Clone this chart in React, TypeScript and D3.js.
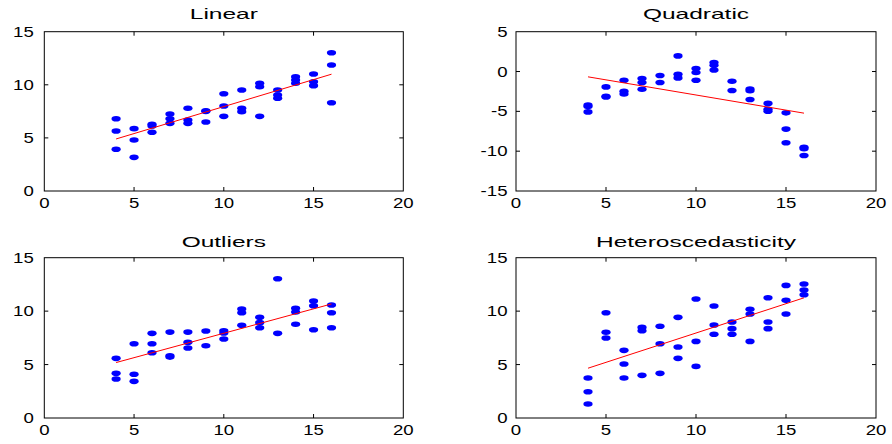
import { useEffect } from "react";
import * as d3 from "d3";

// ---- data ----
const xTicks = [0, 5, 10, 15, 20];
const titles = ["Linear", "Quadratic", "Outliers", "Heteroscedasticity"];
const yTicksA = [0, 5, 10, 15];
const yTicksB = [-15, -10, -5, 0, 5];

const linearX = [4, 4, 4, 5, 5, 5, 6, 6, 6, 7, 7, 7, 8, 8, 8, 9, 9, 9, 10, 10, 10, 11, 11, 11, 12, 12, 12, 13, 13, 13, 14, 14, 14, 15, 15, 15, 16, 16, 16];
const linearY = [6.81, 5.65, 3.93, 5.87, 4.8, 3.17, 6.28, 6.12, 5.53, 7.25, 6.81, 6.37, 7.79, 6.69, 6.37, 7.56, 7.5, 6.5, 9.16, 8.0, 7.03, 9.51, 7.79, 7.47, 10.14, 9.82, 7.03, 9.51, 9.04, 8.73, 10.76, 10.45, 10.14, 11.02, 10.29, 9.92, 13.02, 11.86, 8.31];

const quadX = [4, 4, 4, 5, 5, 5, 6, 6, 6, 7, 7, 7, 8, 8, 9, 9, 9, 10, 10, 10, 11, 11, 11, 12, 12, 13, 13, 13, 14, 14, 14, 15, 15, 15, 16, 16, 16];
const quadY = [-4.2, -4.4, -5.07, -1.93, -3.1, -3.2, -1.09, -2.47, -2.81, -0.88, -1.38, -2.22, -0.5, -1.38, 1.96, -0.34, -0.8, 0.38, -0.12, -1.09, 1.13, 0.79, 0.2, -1.22, -2.38, -2.2, -2.4, -3.51, -4.0, -4.73, -4.98, -5.19, -7.23, -8.94, -9.5, -9.7, -10.54];

const outX = [4, 4, 4, 5, 5, 5, 6, 6, 6, 7, 7, 7, 8, 8, 8, 9, 9, 10, 10, 10, 11, 11, 11, 12, 12, 12, 13, 13, 14, 14, 14, 15, 15, 15, 16, 16, 16];
const outY = [5.58, 4.18, 3.65, 6.95, 4.09, 3.43, 7.92, 6.95, 6.11, 8.04, 5.83, 5.7, 8.04, 7.08, 6.55, 8.14, 6.76, 8.17, 7.95, 7.39, 10.2, 9.85, 8.67, 9.42, 8.92, 8.45, 13.03, 7.92, 10.26, 9.92, 8.77, 10.94, 10.5, 8.26, 10.57, 9.85, 8.45];

const hetX = [4, 4, 4, 5, 5, 5, 6, 6, 6, 7, 7, 7, 8, 8, 8, 9, 9, 9, 10, 10, 10, 11, 11, 11, 12, 12, 12, 13, 13, 13, 14, 14, 14, 15, 15, 15, 16, 16, 16];
const hetY = [3.74, 2.46, 1.31, 9.85, 8.02, 7.48, 6.33, 5.05, 3.74, 8.48, 8.17, 3.99, 8.58, 6.95, 4.18, 9.42, 6.64, 5.58, 11.13, 7.17, 4.83, 10.48, 8.7, 7.83, 8.98, 8.36, 7.83, 10.17, 9.73, 7.17, 11.25, 8.98, 8.36, 12.41, 11.01, 9.73, 12.54, 11.98, 11.53];

const seriesX = [linearX, quadX, outX, hetX];
const seriesY = [linearY, quadY, outY, hetY];
const yTickSets = [yTicksA, yTicksB, yTicksA, yTicksA];

// panel boxes (pixel layout)
const boxes = [
  { left: 44.3, right: 403.3, top: 31.7, bottom: 191, titleY: 19, gap: 10.5 },
  { left: 516, right: 876, top: 31.7, bottom: 191, titleY: 19, gap: 8.5 },
  { left: 44.3, right: 403.3, top: 257.7, bottom: 418, titleY: 247, gap: 10.5 },
  { left: 516, right: 876, top: 257.7, bottom: 418, titleY: 247, gap: 8.5 },
];

const FONT = "'Liberation Sans', Arial, Helvetica, sans-serif";

function fit(xs: number[], ys: number[]) {
  const mx = d3.mean(xs)!;
  const my = d3.mean(ys)!;
  let sxy = 0,
    sxx = 0;
  xs.forEach((x, i) => {
    sxy += (x - mx) * (ys[i] - my);
    sxx += (x - mx) * (x - mx);
  });
  const b = sxy / sxx;
  return (x: number) => my + b * (x - mx);
}

function Panel({ idx }: { idx: number }) {
  const box = boxes[idx];
  const xs = seriesX[idx];
  const ys = seriesY[idx];
  const yt = yTickSets[idx];
  const x = d3.scaleLinear().domain([0, 20]).range([box.left, box.right]);
  const y = d3
    .scaleLinear()
    .domain([yt[0], yt[yt.length - 1]])
    .range([box.bottom, box.top]);
  const f = fit(xs, ys);
  const ext = d3.extent(xs) as [number, number];
  const line = d3
    .line<number>()
    .x((d) => x(d))
    .y((d) => y(f(d)));
  const tl = 4;
  return (
    <g>
      <rect
        x={box.left}
        y={box.top}
        width={box.right - box.left}
        height={box.bottom - box.top}
        fill="white"
        stroke="black"
        strokeWidth={1}
      />
      {xTicks.slice(1, -1).map((t) => (
        <g key={"xt" + t} stroke="black" strokeWidth={1}>
          <line x1={x(t)} x2={x(t)} y1={box.bottom} y2={box.bottom - tl} />
          <line x1={x(t)} x2={x(t)} y1={box.top} y2={box.top + tl} />
        </g>
      ))}
      {yt.slice(1, -1).map((t) => (
        <g key={"yt" + t} stroke="black" strokeWidth={1}>
          <line x1={box.left} x2={box.left + tl} y1={y(t)} y2={y(t)} />
          <line x1={box.right} x2={box.right - tl} y1={y(t)} y2={y(t)} />
        </g>
      ))}
      {xTicks.map((t) => (
        <text
          key={"xl" + t}
          transform={`translate(${x(t)},${box.bottom + 17}) scale(1.33,1)`}
          textAnchor="middle"
          fontSize={14}
          fontFamily={FONT}
        >
          {t}
        </text>
      ))}
      {yt.map((t) => (
        <text
          key={"yl" + t}
          transform={`translate(${box.left - box.gap},${y(t) + 5}) scale(1.33,1)`}
          textAnchor="end"
          fontSize={14}
          fontFamily={FONT}
        >
          {t}
        </text>
      ))}
      <text
        transform={`translate(${(box.left + box.right) / 2},${box.titleY}) scale(1.75,1)`}
        textAnchor="middle"
        fontSize={14}
        fontFamily={FONT}
      >
        {titles[idx]}
      </text>
      {xs.map((d, i) => (
        <ellipse key={i} cx={x(d)} cy={y(ys[i])} rx={4.6} ry={2.8} fill="#0000ff" />
      ))}
      <path d={line(ext) || ""} fill="none" stroke="#ff0000" strokeWidth={1} />
    </g>
  );
}

export default function App() {
  useEffect(() => {
    document.body.style.margin = "0";
  }, []);
  return (
    <svg width={892} height={444} style={{ display: "block", background: "white" }}>
      {boxes.map((_, i) => (
        <Panel key={i} idx={i} />
      ))}
    </svg>
  );
}
